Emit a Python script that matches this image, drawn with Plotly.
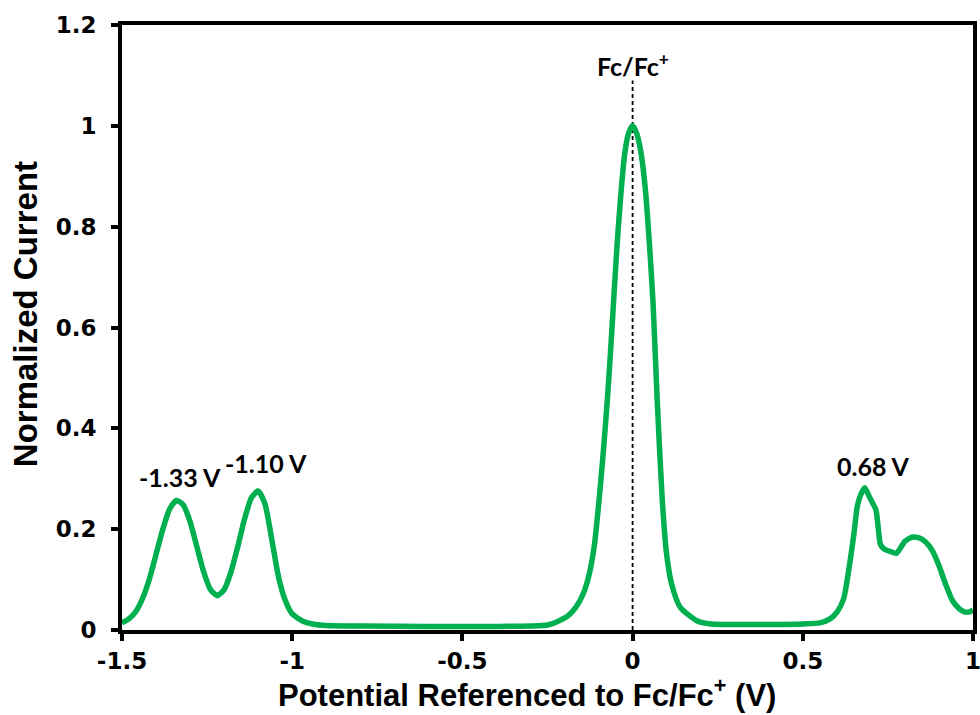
import plotly.graph_objects as go

# ---- data ----
potential = [-1.50, -1.48, -1.46, -1.44, -1.42, -1.40, -1.38, -1.36, -1.34, -1.32,
             -1.30, -1.28, -1.26, -1.24, -1.22, -1.20, -1.18, -1.16, -1.14, -1.12,
             -1.10, -1.08, -1.06, -1.04, -1.02, -1.00, -0.97, -0.94, -0.90, -0.80,
             -0.60, -0.40, -0.30, -0.25, -0.217, -0.19, -0.167, -0.145, -0.127, -0.112,
             -0.10, -0.087, -0.075, -0.065, -0.056, -0.045, -0.035, -0.024, -0.012, 0.00,
             0.012, 0.025, 0.038, 0.050, 0.060, 0.072, 0.087, 0.100, 0.115, 0.140,
             0.19, 0.23, 0.30, 0.40, 0.50, 0.55,
             0.58, 0.60, 0.62, 0.635, 0.65, 0.66, 0.67, 0.682, 0.695, 0.705,
             0.715, 0.722, 0.728, 0.74, 0.76, 0.775, 0.79, 0.80, 0.82, 0.84,
             0.86, 0.88, 0.90, 0.92, 0.94, 0.96, 0.975, 0.99, 1.00]
current = [0.014, 0.022, 0.036, 0.062, 0.100, 0.150, 0.200, 0.240, 0.257, 0.248,
           0.215, 0.165, 0.115, 0.080, 0.068, 0.080, 0.115, 0.165, 0.220, 0.262,
           0.276, 0.250, 0.180, 0.105, 0.058, 0.032, 0.018, 0.012, 0.009, 0.008,
           0.007, 0.007, 0.008, 0.010, 0.018, 0.028, 0.045, 0.072, 0.112, 0.170,
           0.247, 0.345, 0.449, 0.550, 0.650, 0.770, 0.860, 0.940, 0.985, 1.000,
           0.985, 0.945, 0.870, 0.760, 0.650, 0.460, 0.260, 0.150, 0.090, 0.045,
           0.018, 0.012, 0.011, 0.011, 0.012, 0.014,
           0.022, 0.035, 0.062, 0.119, 0.190, 0.245, 0.268, 0.282, 0.265, 0.252,
           0.238, 0.200, 0.170, 0.160, 0.155, 0.152, 0.166, 0.176, 0.184, 0.183,
           0.175, 0.158, 0.128, 0.090, 0.058, 0.042, 0.036, 0.036, 0.040]

x_ticks = [-1.5, -1, -0.5, 0, 0.5, 1]
x_tick_labels = ["-1.5", "-1", "-0.5", "0", "0.5", "1"]
y_ticks = [0, 0.2, 0.4, 0.6, 0.8, 1.0, 1.2]
y_tick_labels = ["0", "0.2", "0.4", "0.6", "0.8", "1", "1.2"]

x_title = "Potential Referenced to Fc/Fc<sup>+</sup> (V)"
y_title = "Normalized Current"

peak_labels = ["-1.33 V", "-1.10 V", "0.68 V"]
peak_label_x = [-1.33, -1.077, 0.709]
peak_label_y = [0.303, 0.331, 0.325]

ref_x = [0, 0]
ref_y = [0, 1.09]

GREEN = "#00B050"
fig = go.Figure()
fig.add_trace(go.Scatter(x=ref_x, y=ref_y, mode="lines",
                         line=dict(color="black", width=1.8, dash="4px,3px"),
                         hoverinfo="skip", showlegend=False))
fig.add_trace(go.Scatter(x=potential, y=current, mode="lines",
                         line=dict(color=GREEN, width=5.5, shape="spline", smoothing=0.6),
                         showlegend=False))

ann_font = dict(family="Lato", size=25, color="black", weight="bold")
for t, ax, ay in zip(peak_labels, peak_label_x, peak_label_y):
    fig.add_annotation(x=ax, y=ay, text=t, showarrow=False, font=ann_font)
fig.add_annotation(x=0, y=1.121, text="Fc/Fc<sup>+</sup>", showarrow=False, font=ann_font)

tick_font = dict(family="DejaVu Sans", size=23, color="black", weight="bold")
xtitle_font = dict(family="Liberation Sans", size=31, color="black", weight="bold")
ytitle_font = dict(family="Liberation Sans", size=33, color="black", weight="bold")

# axis titles placed as paper annotations to match the reference offsets
fig.add_annotation(xref="paper", yref="paper", x=0.476, y=-0.104, text=x_title,
                   showarrow=False, font=xtitle_font, xanchor="center", yanchor="middle")
fig.add_annotation(xref="paper", yref="paper", x=-0.114, y=0.522, text=y_title,
                   textangle=-90, showarrow=False, font=ytitle_font,
                   xanchor="center", yanchor="middle")

fig.update_xaxes(range=[-1.5, 1.0], tickvals=x_ticks, ticktext=x_tick_labels,
                 showgrid=False, zeroline=False, showline=True, linecolor="black",
                 linewidth=4, mirror=True, ticks="outside", ticklen=7, tickwidth=4,
                 tickcolor="black", tickfont=tick_font, automargin=False,
                 ticklabeloverflow="allow")
fig.update_yaxes(range=[0, 1.2], tickvals=y_ticks, ticktext=y_tick_labels,
                 showgrid=False, zeroline=False, showline=True, linecolor="black",
                 linewidth=4, mirror=True, ticks="outside", ticklen=7, tickwidth=4,
                 tickcolor="black", tickfont=tick_font, automargin=False,
                 ticklabelstandoff=10)

fig.update_layout(width=980, height=715, plot_bgcolor="white", paper_bgcolor="white",
                  margin=dict(l=122, r=7, t=25, b=85), showlegend=False)

fig.write_html("out.html")
